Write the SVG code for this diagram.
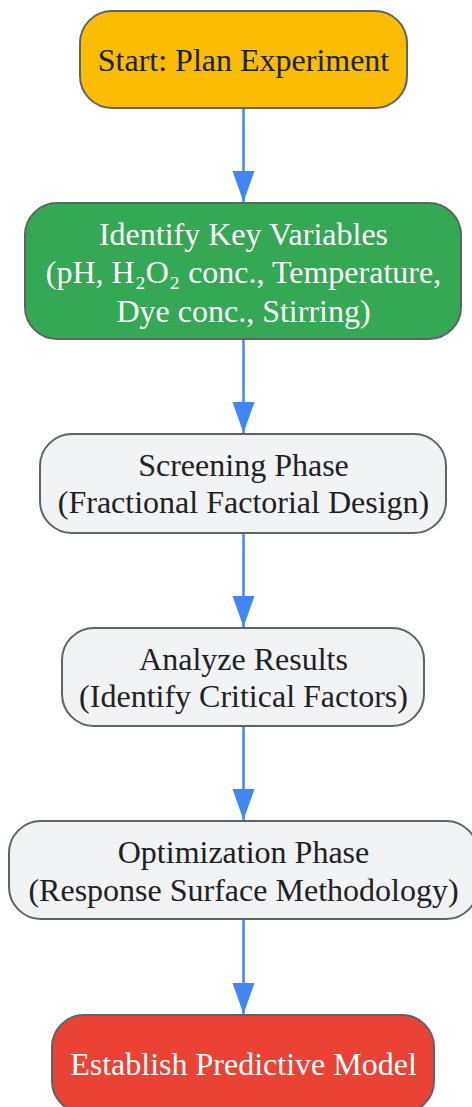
<svg xmlns="http://www.w3.org/2000/svg" width="472" height="1107" viewBox="0 0 472 1107">
<defs>
<style>
.box{stroke:#5f6368;stroke-width:2}
.t{font-family:"Liberation Serif","Times New Roman",serif;font-size:32px;text-anchor:middle}
.dark{fill:#202124}
.light{fill:#ffffff}
.edge{stroke:#4285f4;stroke-width:2.5;fill:none}
</style>
<marker id="ah" markerUnits="userSpaceOnUse" markerWidth="32" markerHeight="24" refX="31" refY="11" orient="auto">
<path d="M0,0 L31,11 L0,22 Z" fill="#4285f4"/>
</marker>
</defs>
<rect width="472" height="1107" fill="#ffffff"/>
<g id="connectors">
<path class="edge" d="M243.5,108 V202" marker-end="url(#ah)"/>
<path class="edge" d="M243.5,339 V433" marker-end="url(#ah)"/>
<path class="edge" d="M243.5,533 V627" marker-end="url(#ah)"/>
<path class="edge" d="M243.5,726 V820" marker-end="url(#ah)"/>
<path class="edge" d="M243.5,919 V1014" marker-end="url(#ah)"/>
</g>
<g id="start">
<rect class="box" x="80" y="11" width="327" height="97" rx="32" fill="#fbbc04"/>
<text class="t dark" x="243.5" y="71">Start: Plan Experiment</text>
</g>
<g id="variables">
<rect class="box" x="25" y="203" width="436" height="136" rx="32" fill="#34a853"/>
<text class="t light" x="243.5" y="245">Identify Key Variables</text>
<text class="t light" x="243.5" y="283">(pH, H₂O₂ conc., Temperature,</text>
<text class="t light" x="243.5" y="322">Dye conc., Stirring)</text>
</g>
<g id="screening">
<rect class="box" x="40" y="434" width="406" height="99" rx="32" fill="#f1f3f4"/>
<text class="t dark" x="243.5" y="476">Screening Phase</text>
<text class="t dark" x="243.5" y="513">(Fractional Factorial Design)</text>
</g>
<g id="analyze">
<rect class="box" x="62" y="628" width="362" height="98" rx="32" fill="#f1f3f4"/>
<text class="t dark" x="243.5" y="670">Analyze Results</text>
<text class="t dark" x="243.5" y="707">(Identify Critical Factors)</text>
</g>
<g id="optimization">
<rect class="box" x="9" y="821" width="469" height="98" rx="32" fill="#f1f3f4"/>
<text class="t dark" x="243.5" y="863">Optimization Phase</text>
<text class="t dark" x="243.5" y="901">(Response Surface Methodology)</text>
</g>
<g id="model">
<rect class="box" x="52" y="1015" width="382" height="98" rx="32" fill="#ea4335"/>
<text class="t light" x="243.5" y="1075">Establish Predictive Model</text>
</g>
</svg>
